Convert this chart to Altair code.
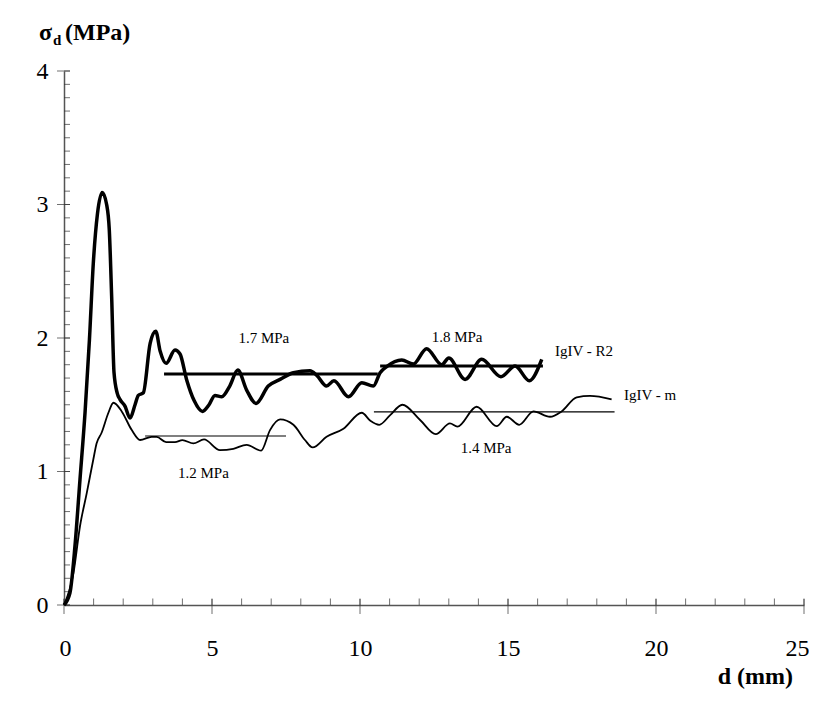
import altair as alt
import pandas as pd

# ---------------- data ----------------
# IgIV - R2 (thick curve)
r2_d = [0, 0.2, 0.37, 0.54, 0.71, 0.86, 0.99, 1.13, 1.29, 1.44, 1.53, 1.61, 1.69, 1.80, 1.89,
        2.06, 2.23, 2.40, 2.51, 2.68, 2.91, 3.10, 3.25, 3.45, 3.75, 3.92, 4.14, 4.40, 4.68,
        4.90, 5.10, 5.33, 5.60, 5.87, 6.17, 6.49, 6.90, 7.30, 7.75, 8.31, 8.54, 8.87, 9.12,
        9.61, 10.06, 10.45, 10.68, 10.90, 11.41, 11.80, 12.25, 12.76, 13.00, 13.55, 14.11,
        14.76, 15.24, 15.72, 16.14]
r2_s = [0, 0.09, 0.44, 0.94, 1.44, 1.99, 2.56, 2.93, 3.09, 3.00, 2.81, 2.31, 1.74, 1.585, 1.54,
        1.49, 1.40, 1.50, 1.57, 1.59, 1.96, 2.05, 1.90, 1.81, 1.91, 1.88, 1.69, 1.53, 1.45,
        1.50, 1.57, 1.56, 1.64, 1.76, 1.61, 1.51, 1.64, 1.69, 1.74, 1.755, 1.72, 1.64, 1.68,
        1.56, 1.665, 1.64, 1.74, 1.785, 1.835, 1.805, 1.92, 1.80, 1.85, 1.69, 1.84,
        1.71, 1.79, 1.68, 1.84]

# IgIV - m (thin curve)
m_d = [0, 0.32, 0.54, 0.77, 0.99, 1.10, 1.27, 1.50, 1.67, 1.95, 2.29, 2.57, 2.96, 3.13, 3.45,
       3.75, 4.00, 4.37, 4.73, 5.27, 5.72, 6.17, 6.66, 6.96, 7.30, 7.75, 8.14, 8.40, 8.87,
       9.44, 10.06, 10.35, 10.65, 11.01, 11.43, 12.03, 12.56, 13.04, 13.29, 13.94, 14.62,
       14.96, 15.38, 15.86, 16.42, 16.81, 17.32, 17.77, 18.50]
m_s = [0, 0.24, 0.59, 0.84, 1.09, 1.21, 1.29, 1.44, 1.515, 1.45, 1.31, 1.236, 1.26, 1.26, 1.22,
       1.22, 1.235, 1.21, 1.24, 1.16, 1.17, 1.20, 1.156, 1.31, 1.39, 1.35, 1.236, 1.18, 1.26,
       1.32, 1.44, 1.38, 1.35, 1.42, 1.50, 1.386, 1.28, 1.36, 1.336, 1.485, 1.34,
       1.41, 1.35, 1.45, 1.41, 1.45, 1.556, 1.566, 1.54]

# mean levels
mean_start = [3.38, 10.68, 2.74, 10.47]
mean_end = [10.60, 16.18, 7.50, 18.60]
mean_level = [1.73, 1.79, 1.266, 1.446]
mean_kind = ["thick", "thick", "thin", "thin"]

# annotations
mpa_labels = ["1.7 MPa", "1.8 MPa", "1.2 MPa", "1.4 MPa"]
mpa_x = [6.75, 13.28, 4.71, 14.26]
mpa_y = [2.00, 2.01, 0.99, 1.176]
series_labels = ["IgIV - R2", "IgIV - m"]
series_label_x = [16.59, 18.92]
series_label_y = [1.90, 1.57]

# axis ticks
x_major = [0, 5, 10, 15, 20, 25]
x_minor = list(range(0, 26))
y_major = [0, 1, 2, 3, 4]
y_minor = [i / 10 for i in range(0, 41)]

FONT = "'Liberation Serif', 'Times New Roman', Times, serif"
TICKC = "#333333"

# ---------------- encodings ----------------
xscale = alt.Scale(domain=[0, 25], nice=False, zero=False)
yscale = alt.Scale(domain=[0, 4], nice=False, zero=False)
xaxis = alt.Axis(values=x_major, format="d", ticks=False, grid=False, domain=True,
                 domainColor="#555555", domainWidth=1.5, labelFont=FONT, labelFontSize=24,
                 labelColor="black", labelPadding=50, labelBaseline="alphabetic",
                 labelFlush=True, labelFlushOffset=5, labelOverlap=False, title=None)
yaxis = alt.Axis(values=y_major, format="d", ticks=False, grid=False, domain=True,
                 domainColor="#555555", domainWidth=1.5, labelFont=FONT, labelFontSize=24,
                 labelColor="black", labelPadding=16, labelBaseline="middle",
                 labelFlush=False, labelOverlap=False, title=None)


def X(f="d"):
    return alt.X(f"{f}:Q", scale=xscale, axis=xaxis)


def Y(f="s"):
    return alt.Y(f"{f}:Q", scale=yscale, axis=yaxis)


r2_df = pd.DataFrame({"d": r2_d, "s": r2_s})
m_df = pd.DataFrame({"d": m_d, "s": m_s})
mean_df = pd.DataFrame({"d": mean_start, "d2": mean_end, "s": mean_level, "kind": mean_kind})
mpa_df = pd.DataFrame({"d": mpa_x, "s": mpa_y, "t": mpa_labels})
ser_df = pd.DataFrame({"d": series_label_x, "s": series_label_y, "t": series_labels})
xmin_df = pd.DataFrame({"d": x_minor, "s": [0] * len(x_minor)})
xmaj_df = pd.DataFrame({"d": x_major, "s": [0] * len(x_major)})
ymin_df = pd.DataFrame({"d": [0] * len(y_minor), "s": y_minor})
ymaj_df = pd.DataFrame({"d": [0] * len(y_major), "s": y_major})
one = pd.DataFrame({"k": [0]})

line_r2 = alt.Chart(r2_df).mark_line(interpolate="monotone", color="black", strokeWidth=3.5,
                                      strokeJoin="round").encode(x=X(), y=Y())
line_m = alt.Chart(m_df).mark_line(interpolate="monotone", color="black", strokeWidth=1.8).encode(
    x=X(), y=Y())

means = alt.Chart(mean_df).mark_rule(color="black").encode(
    x=X(), x2="d2:Q", y=Y(),
    strokeWidth=alt.StrokeWidth("kind:N", scale=alt.Scale(domain=["thick", "thin"], range=[3, 1.2]),
                                legend=None))

mpa_text = alt.Chart(mpa_df).mark_text(font=FONT, fontSize=15, align="center", baseline="middle",
                                       color="black").encode(x=X(), y=Y(), text="t:N")
ser_text = alt.Chart(ser_df).mark_text(font=FONT, fontSize=15, align="left", baseline="middle",
                                       color="black").encode(x=X(), y=Y(), text="t:N")

xmin_ticks = alt.Chart(xmin_df).mark_tick(orient="vertical", size=6.5, thickness=1, yOffset=-3.25,
                                          color=TICKC).encode(x=X(), y=Y())
xmaj_ticks = alt.Chart(xmaj_df).mark_tick(orient="vertical", size=15, thickness=1, yOffset=1.5,
                                          color=TICKC).encode(x=X(), y=Y())
ymin_ticks = alt.Chart(ymin_df).mark_tick(orient="horizontal", size=6, thickness=1, xOffset=3,
                                          color=TICKC).encode(x=X(), y=Y())
ymaj_ticks = alt.Chart(ymaj_df).mark_tick(orient="horizontal", size=13, thickness=1, xOffset=-0.5,
                                          color=TICKC).encode(x=X(), y=Y())

t_sigma = alt.Chart(one).mark_text(text="σ", font=FONT, fontSize=24, fontWeight="bold",
                                   align="left", baseline="alphabetic", color="black").encode(
    x=alt.value(-25), y=alt.value(-31))
t_sub = alt.Chart(one).mark_text(text="d", font=FONT, fontSize=15, fontWeight="bold",
                                 align="left", baseline="alphabetic", color="black").encode(
    x=alt.value(-11), y=alt.value(-26))
t_unit = alt.Chart(one).mark_text(text="(MPa)", font=FONT, fontSize=24, fontWeight="bold",
                                  align="left", baseline="alphabetic", color="black").encode(
    x=alt.value(1), y=alt.value(-31))
t_xtitle = alt.Chart(one).mark_text(text="d (mm)", font=FONT, fontSize=24, fontWeight="bold",
                                    align="right", baseline="alphabetic", color="black").encode(
    x=alt.value(729), y=alt.value(613))

chart = alt.layer(
    xmin_ticks, xmaj_ticks, ymin_ticks, ymaj_ticks,
    means, line_m, line_r2, mpa_text, ser_text,
    t_sigma, t_sub, t_unit, t_xtitle
).properties(
    width=740, height=534,
    autosize=alt.AutoSizeParams(type="none"),
    padding={"left": 56, "top": 63, "right": 5, "bottom": 84},
    background="white",
).configure_view(stroke=None)

chart.save("out.html", embed_options={"renderer": "svg", "actions": False})
